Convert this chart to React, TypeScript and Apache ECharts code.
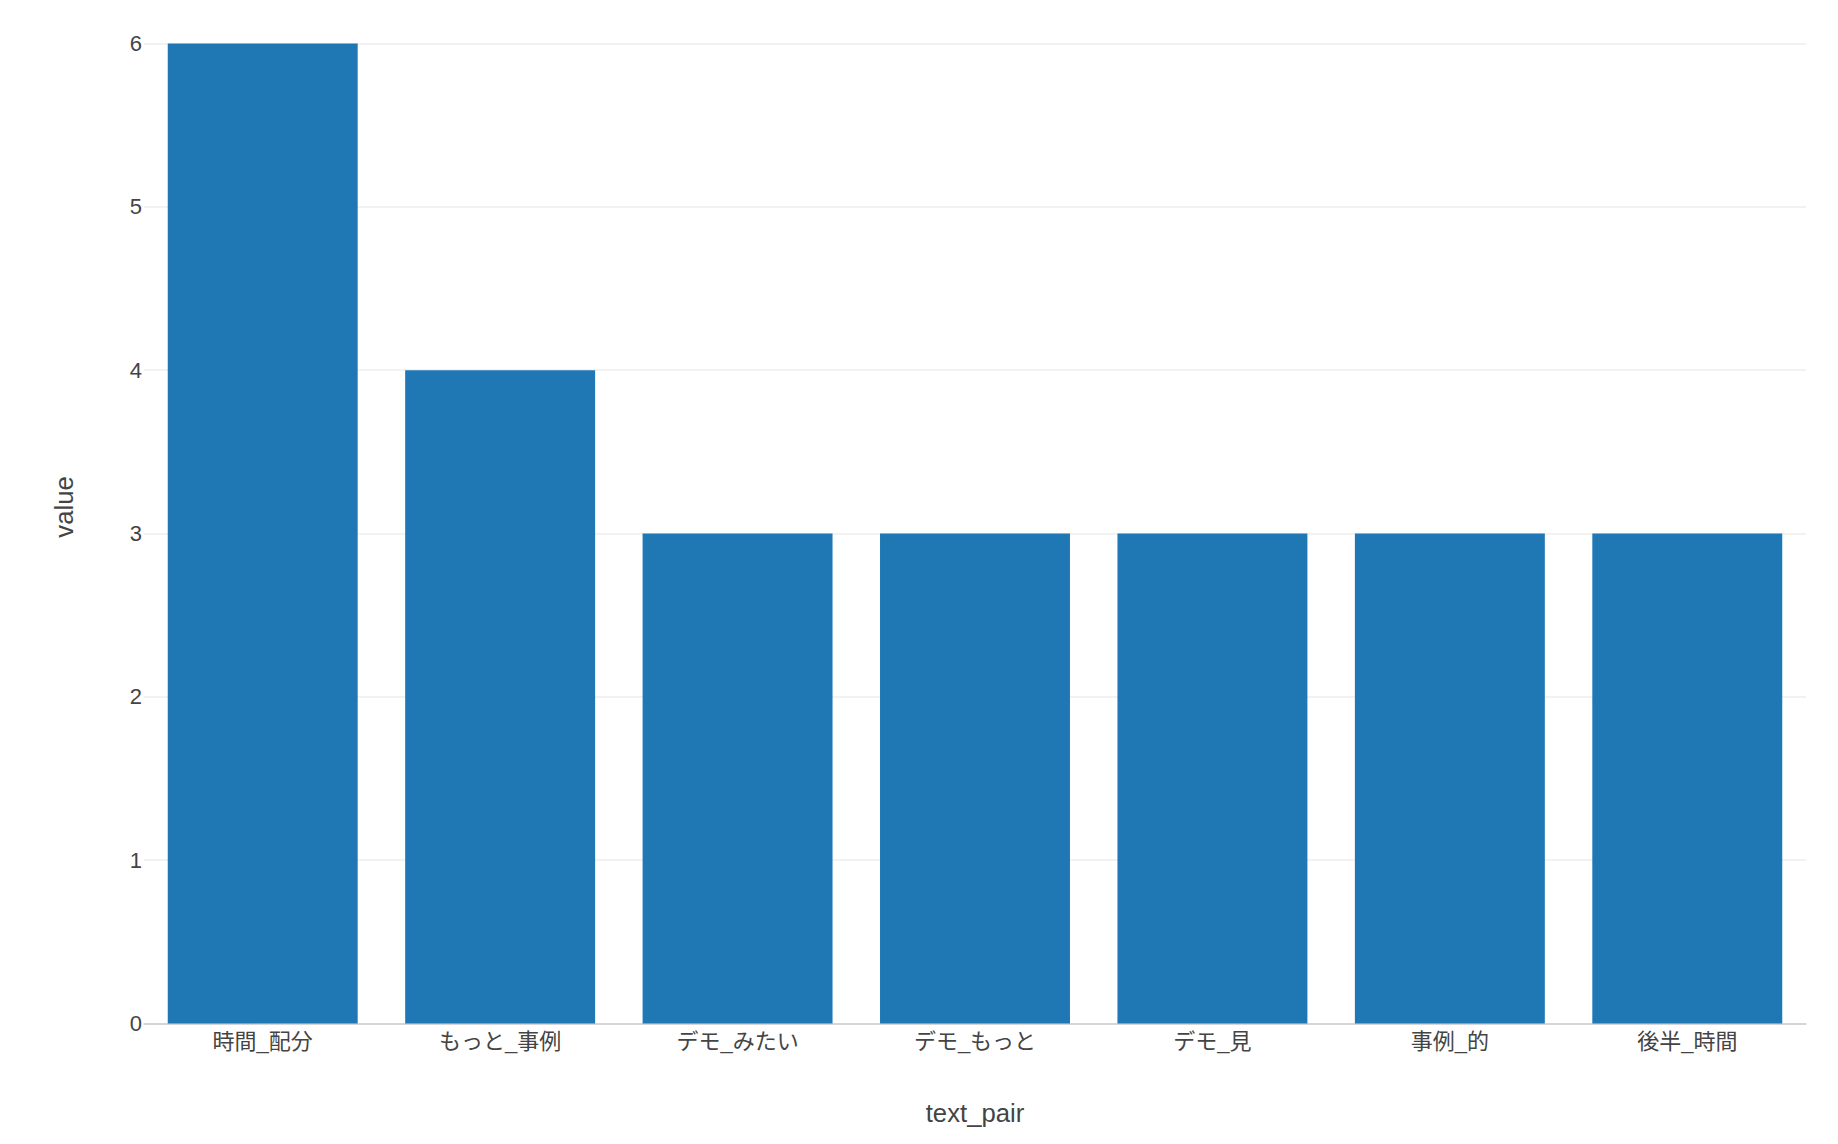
import React, { useEffect, useRef } from "react";
import * as echarts from "echarts";

const categories: string[] = ["時間_配分", "もっと_事例", "デモ_みたい", "デモ_もっと", "デモ_見", "事例_的", "後半_時間"];
const values: number[] = [6, 4, 3, 3, 3, 3, 3];
const yTicks = { min: 0, max: 6, interval: 1 };

const FONT = '"Liberation Sans", Arial, "Noto Sans CJK JP", sans-serif';
const TEXT = "#444444";
const TICK_SIZE = 22;
const TITLE_SIZE = 25.7;

export default function App() {
  const ref = useRef<HTMLDivElement>(null);
  useEffect(() => {
    document.body.style.margin = "0";
    const chart = echarts.init(ref.current!, null, { renderer: "svg" });
    const gridLeft = 144;
    const gridTop = 43.5;
    const gridRight = 32;
    const gridHeight = 980;
    chart.setOption({
      animation: false,
      backgroundColor: "#ffffff",
      textStyle: { fontFamily: FONT },
      grid: { left: gridLeft, top: gridTop, right: gridRight, height: gridHeight, containLabel: false },
      xAxis: {
        type: "category",
        data: categories,
        axisLine: { show: true, lineStyle: { color: "#cccccc", width: 1.5 } },
        axisTick: { show: false },
        axisLabel: { color: TEXT, fontSize: TICK_SIZE, margin: 7, fontFamily: FONT },
        name: "text_pair",
        nameLocation: "middle",
        nameGap: 77,
        nameTextStyle: { color: TEXT, fontSize: TITLE_SIZE, fontFamily: FONT },
      },
      yAxis: {
        type: "value",
        min: yTicks.min,
        max: yTicks.max,
        interval: yTicks.interval,
        axisLine: { show: false },
        axisTick: { show: false },
        splitLine: { lineStyle: { color: "#eeeeee", width: 1.5 } },
        axisLabel: { color: TEXT, fontSize: TICK_SIZE, margin: 2, fontFamily: FONT },
      },
      graphic: [
        {
          type: "text",
          x: 64,
          y: 507,
          rotation: Math.PI / 2,
          style: {
            text: "value",
            fill: TEXT,
            font: `${TITLE_SIZE}px ${FONT}`,
            align: "center",
            verticalAlign: "middle",
          },
        },
      ],
      series: [
        {
          type: "bar",
          data: values,
          barWidth: "80%",
          itemStyle: { color: "#1f77b4" },
        },
      ],
    });
    return () => chart.dispose();
  }, []);
  return <div ref={ref} style={{ position: "absolute", left: 0, top: 0, width: 1838, height: 1144 }} />;
}
